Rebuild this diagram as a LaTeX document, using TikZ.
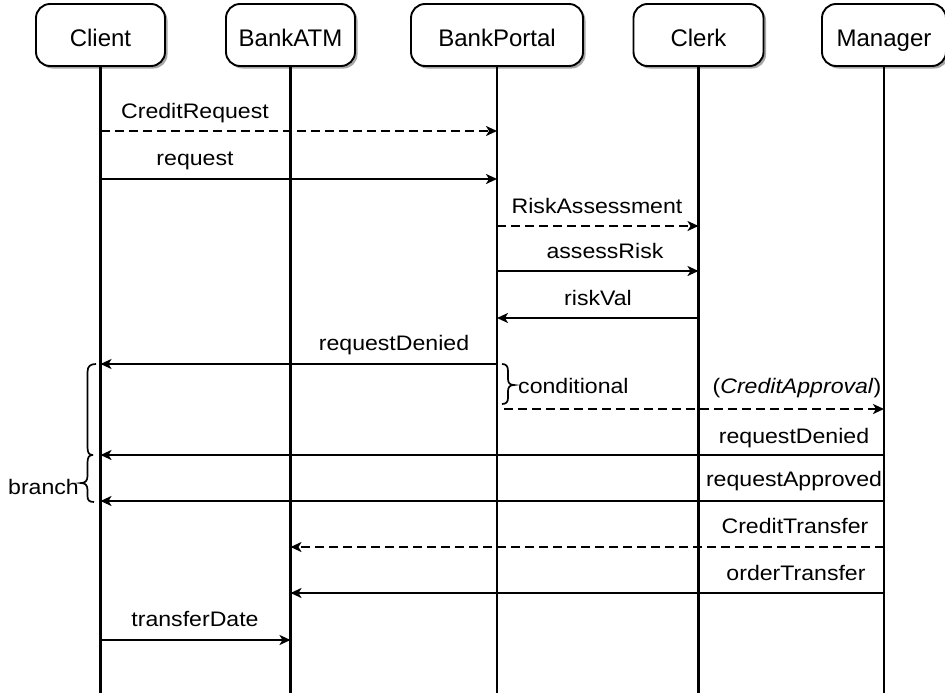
\documentclass[tikz,border=0pt]{standalone}
\usepackage{fontspec}
\setmainfont{Liberation Sans}
\newfontfamily\lblfont[FakeStretch=1.1]{Liberation Sans}
\usetikzlibrary{arrows.meta,shadows}
\begin{document}
\begin{tikzpicture}[x=1pt,y=-1pt,
  actor/.style={draw=black, line width=1.9pt, rounded corners=14pt, fill=white,
    minimum height=62pt, inner sep=0pt, text height=25pt, text depth=2pt,
    font=\fontsize{24}{28}\selectfont,
    drop shadow={shadow xshift=2.5pt, shadow yshift=-2.5pt, fill=black, opacity=0.35}},
  life/.style={line width=2.2pt},
  msg/.style={line width=2.2pt, -{Stealth[length=11pt,width=10pt,inset=3pt]}},
  amsg/.style={msg, dash pattern=on 9pt off 5pt},
  lbl/.style={anchor=base, inner sep=0pt, font=\lblfont\fontsize{21}{25}\selectfont},
  bracestyle/.style={line width=1.7pt}
]
\useasboundingbox (0,0) rectangle (945,699);

% actors
\node[actor, minimum width=129pt] (client) at (100.5,35) {Client};
\node[actor, minimum width=129pt] (atm) at (290.5,35) {BankATM};
\node[actor, minimum width=172pt] (portal) at (497,35) {BankPortal};
\node[actor, minimum width=130pt] (clerk) at (698.5,35) {Clerk};
\node[actor, minimum width=124pt] (manager) at (884,35) {Manager};

% lifelines
\coordinate (bot) at (0,693);
\draw[life] (client.south) -- (client.south |- bot);
\draw[life] (atm.south) -- (atm.south |- bot);
\draw[life] (portal.south) -- (portal.south |- bot);
\draw[life] (clerk.south) -- (clerk.south |- bot);
\draw[life] (manager.south) -- (manager.south |- bot);

% rows
\coordinate (r1) at (0,131);
\coordinate (r2) at (0,179);
\coordinate (r3) at (0,226);
\coordinate (r4) at (0,271);
\coordinate (r5) at (0,318);
\coordinate (r6) at (0,364);
\coordinate (r7) at (0,409);
\coordinate (r8) at (0,455);
\coordinate (r9) at (0,501);
\coordinate (r10) at (0,547);
\coordinate (r11) at (0,593);
\coordinate (r12) at (0,640);

% messages
\draw[amsg] (client.south |- r1) -- (portal.south |- r1);
\node[lbl] (l1) at (195,118) {CreditRequest};
\draw[msg] (client.south |- r2) -- (portal.south |- r2);
\node[lbl] (l2) at (195,165) {request};
\draw[amsg] (portal.south |- r3) -- (clerk.south |- r3);
\node[lbl] (l3) at (597,213) {RiskAssessment};
\draw[msg] (portal.south |- r4) -- (clerk.south |- r4);
\node[lbl] (l4) at (605,258) {assessRisk};
\draw[msg] (clerk.south |- r5) -- (portal.south |- r5);
\node[lbl] (l5) at (598,305) {riskVal};
\draw[msg] (portal.south |- r6) -- (client.south |- r6);
\node[lbl] (l6) at (394,350) {requestDenied};
\coordinate (c7) at ([xshift=7pt]portal.south |- r7);
\draw[amsg] (c7) -- (manager.south |- r7);
\node[lbl] (l7) at (797,393) {(\textit{CreditApproval})};
\draw[msg] (manager.south |- r8) -- (client.south |- r8);
\node[lbl] (l8) at (794,443) {requestDenied};
\draw[msg] (manager.south |- r9) -- (client.south |- r9);
\node[lbl] (l9) at (794,486) {requestApproved};
\draw[amsg] (manager.south |- r10) -- (atm.south |- r10);
\node[lbl] (l10) at (795,533) {CreditTransfer};
\draw[msg] (manager.south |- r11) -- (atm.south |- r11);
\node[lbl] (l11) at (796,580) {orderTransfer};
\draw[msg] (client.south |- r12) -- (atm.south |- r12);
\node[lbl] (l12) at (195,626) {transferDate};

% conditional brace
\draw[bracestyle] (502,364) .. controls (506,364) and (508,366) .. (508,371) -- (508,379)
  .. controls (508,383) and (510,385) .. (514,385)
  .. controls (510,385) and (508,387) .. (508,391) -- (508,398)
  .. controls (508,402) and (506,404) .. (502,404);
\node[lbl, anchor=base west] (cond) at (518,393) {conditional};

% branch brace
\draw[bracestyle] (96,364) .. controls (90.5,364) and (87.5,366) .. (87.5,372) -- (87.5,447)
  .. controls (87.5,453) and (89,455) .. (93,455);
\draw[bracestyle] (93,455) .. controls (89,455) and (87.5,457) .. (87.5,463) -- (87.5,476)
  .. controls (87.5,481) and (85,483) .. (81,483)
  .. controls (85,483) and (87.5,485) .. (87.5,490) -- (87.5,496)
  .. controls (87.5,500) and (89,502) .. (94,502);
\node[lbl, anchor=base east] (branch) at (79,494) {branch};
\end{tikzpicture}
\end{document}
